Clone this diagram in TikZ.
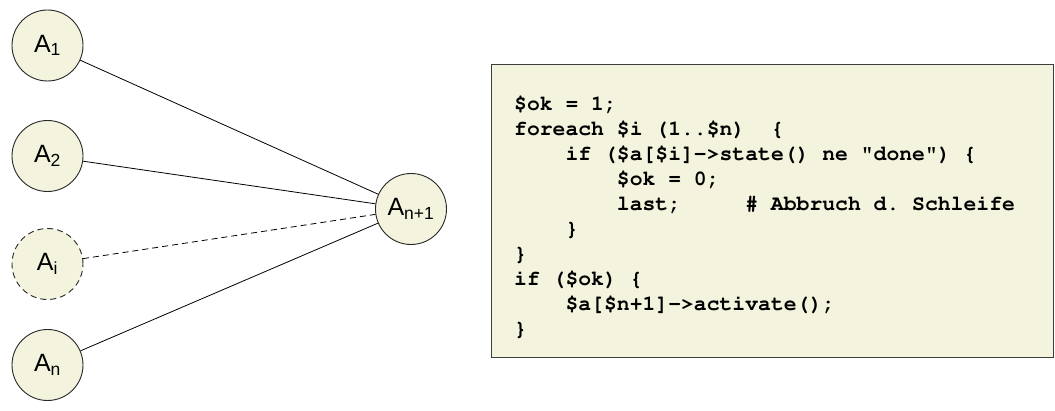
\documentclass[tikz,border=0pt]{standalone}
\usepackage[T1]{fontenc}
\usepackage{fontspec}
\setmainfont{Liberation Sans}
\newcommand\courierbold{\fontencoding{T1}\fontfamily{pcr}\fontseries{b}\selectfont\frenchspacing}
\definecolor{beige}{RGB}{244,243,221}
\definecolor{edge}{RGB}{40,40,40}
\begin{document}
\begin{tikzpicture}[x=1pt,y=-1pt,
  agent/.style={circle,draw=edge,line width=0.9pt,fill=beige,minimum size=71pt,inner sep=0pt,font=\fontsize{25}{28}\selectfont},
  dashline/.style={dash pattern=on 6pt off 4pt},
  link/.style={draw=black,line width=0.8pt},
  codebox/.style={draw=edge!90,line width=1pt,fill=beige,anchor=north west,inner sep=0pt},
  codetext/.style={anchor=north west,inner sep=0pt,align=left,font=\courierbold\fontsize{21.4}{25}\selectfont}]
\useasboundingbox (0,0) rectangle (1055,411);
\node[agent] (A1) at (47.5,45.5) {A\textsubscript{1}};
\node[agent] (A2) at (47.5,156) {A\textsubscript{2}};
\node[agent,dashline] (Ai) at (47.5,264) {A\textsubscript{i}};
\node[agent] (An) at (47.5,365) {A\textsubscript{n}};
\node[agent] (An1) at (411,209) {A\textsubscript{n+1}};
\draw[link] (A1) -- (An1);
\draw[link] (A2) -- (An1);
\draw[link,dashline] (Ai) -- (An1);
\draw[link] (An) -- (An1);
\node[codebox,minimum width=562pt,minimum height=293pt] (box) at (490.5,64) {};
\node[codetext] (code) at (514,96) {%
\$ok = 1;\\
foreach \$i (1..\$n)\ \ \{\\
\ \ \ \ if (\$a[\$i]->state() ne "done") \{\\
\ \ \ \ \ \ \ \ \$ok = 0;\\
\ \ \ \ \ \ \ \ last;\ \ \ \ \ \# Abbruch d. Schleife\\
\ \ \ \ \}\\
\}\\
if (\$ok) \{\\
\ \ \ \ \$a[\$n+1]->activate();\\
\}};
\end{tikzpicture}
\end{document}
